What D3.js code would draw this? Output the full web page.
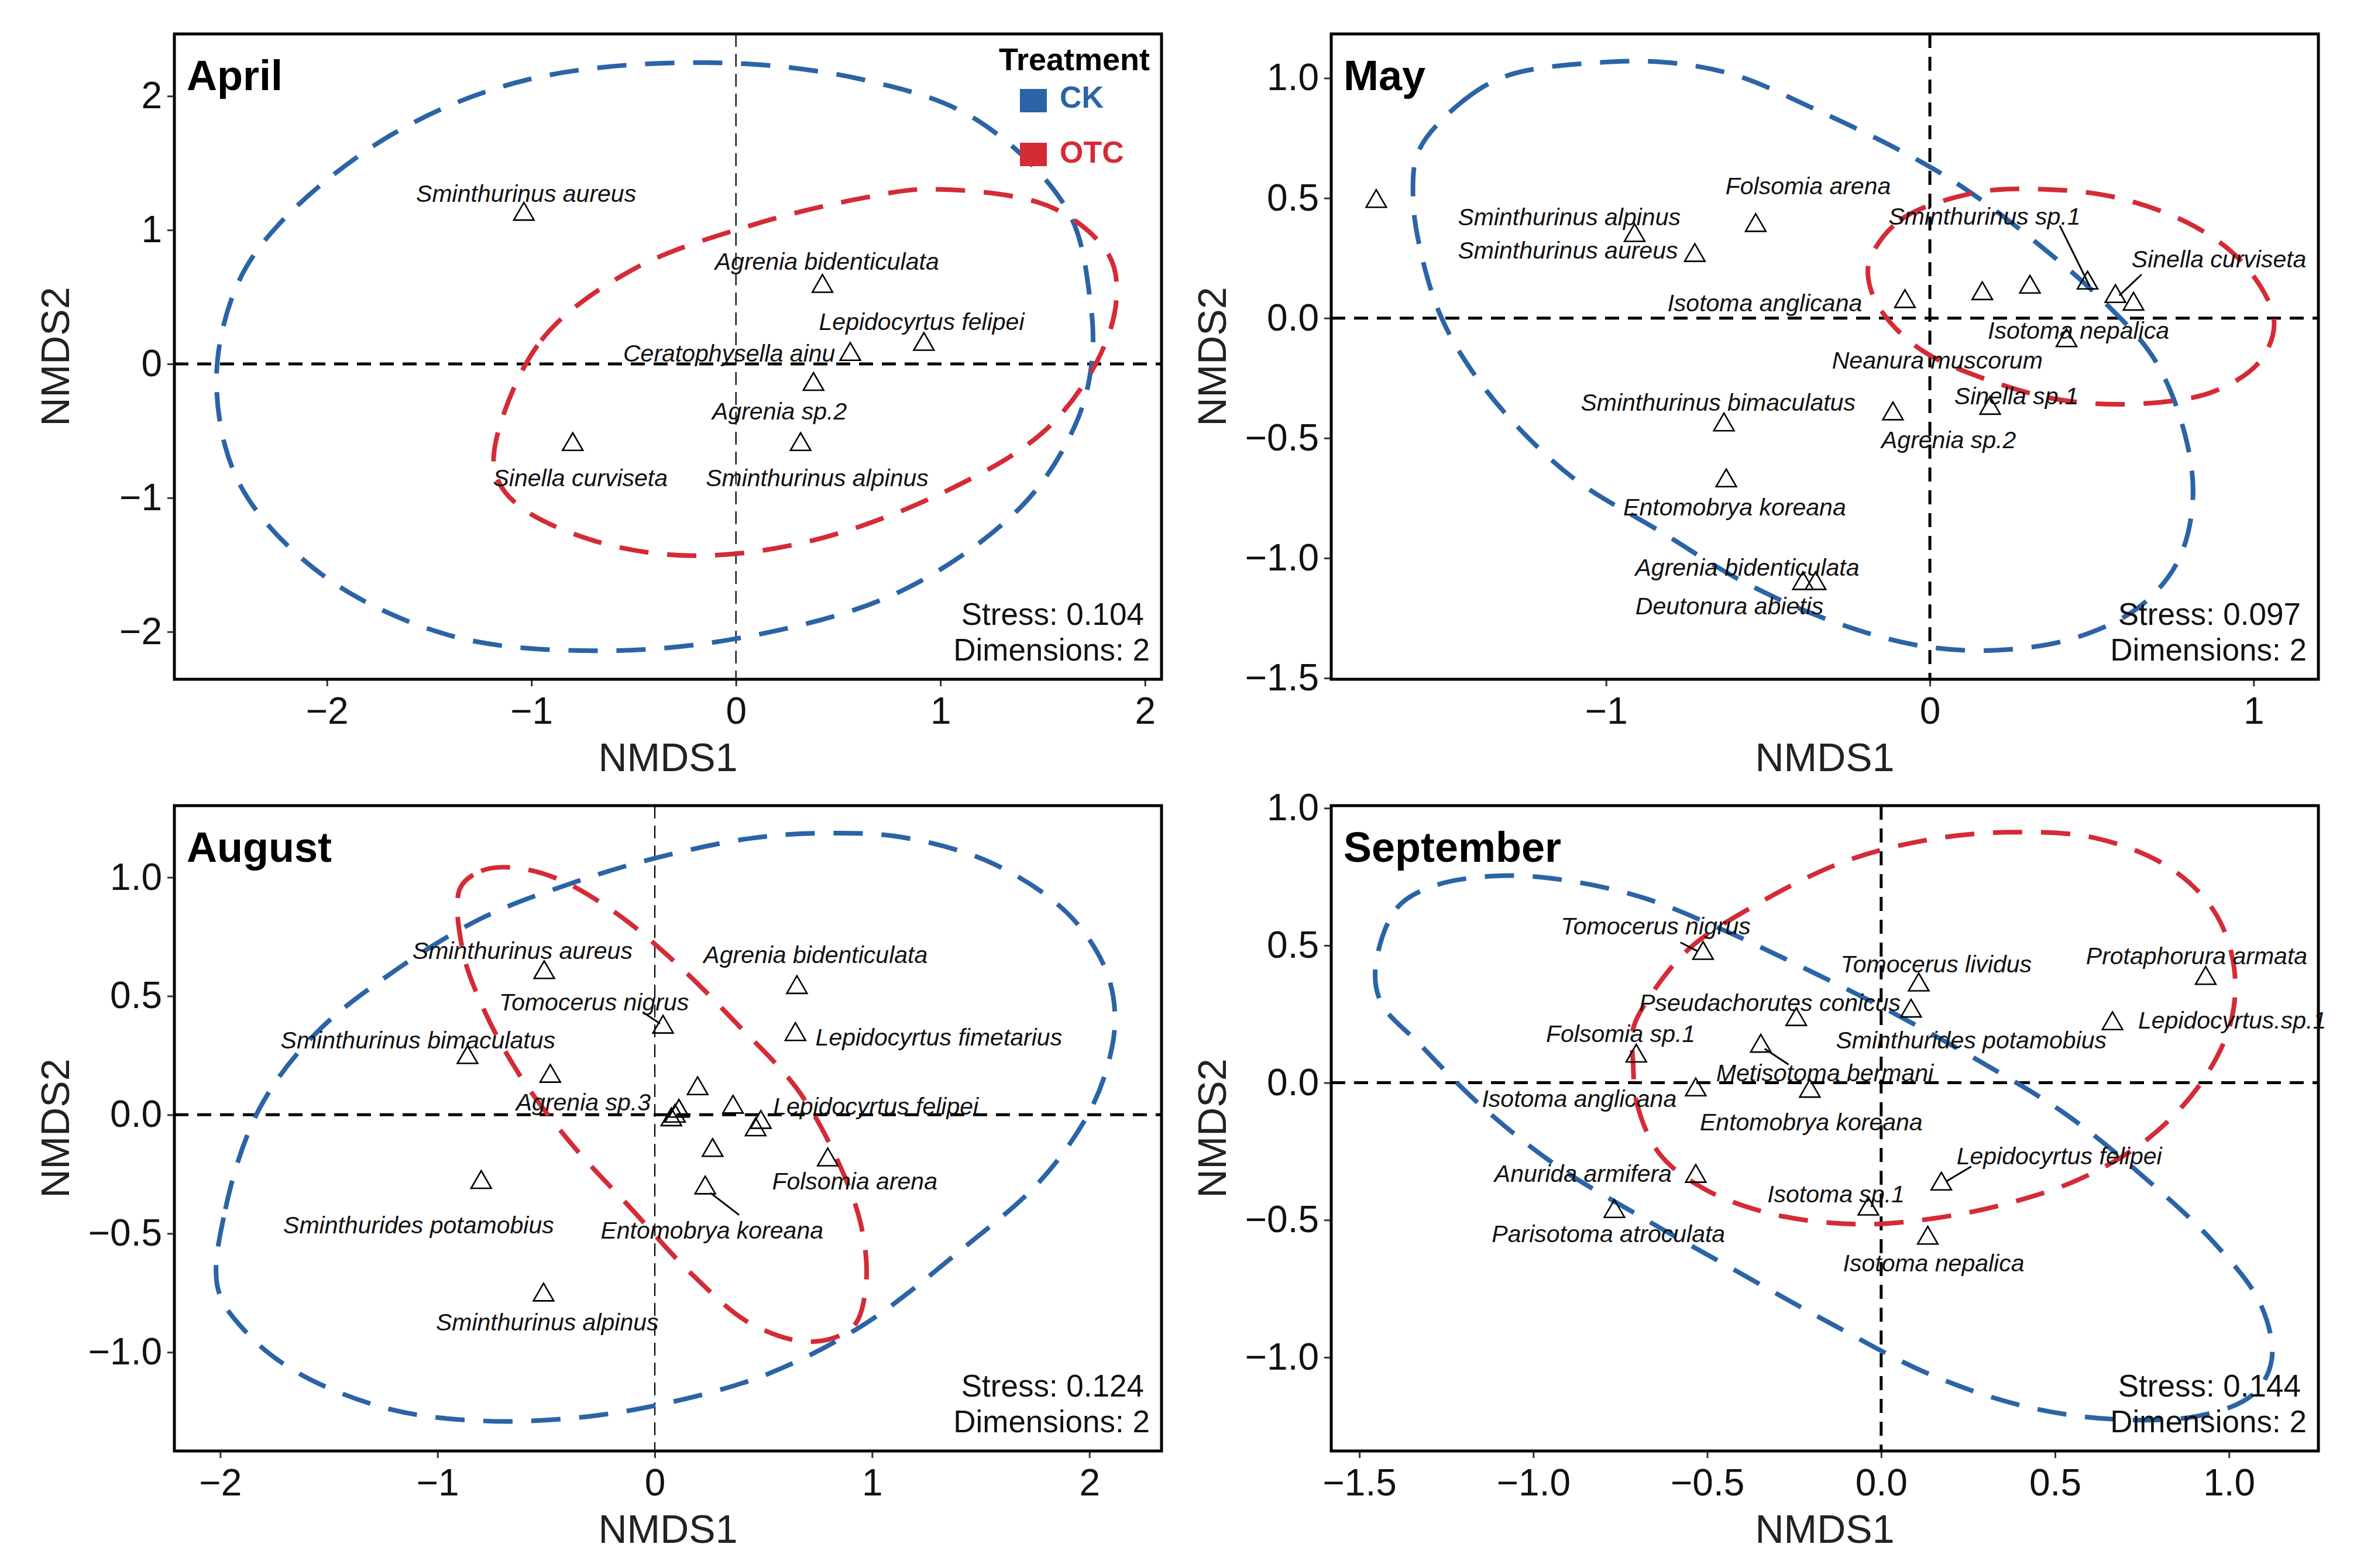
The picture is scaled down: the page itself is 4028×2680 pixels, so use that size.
<!DOCTYPE html>
<html>
<head>
<meta charset="utf-8">
<script src="https://cdn.jsdelivr.net/npm/d3@7"></script>
<style>
  body { margin: 0; background: #fff; }
  svg text { font-family: "Liberation Sans", Arial, sans-serif; }
</style>
</head>
<body>
<svg id="chart"></svg>
<script>
// ---- data (NMDS1, NMDS2, label NMDS1, label NMDS2) ----
const aprilPoints = [
    ['Sminthurinus aureus', -1.037, 1.118, -1.026, 1.271],
    ['Agrenia bidenticulata', 0.423, 0.579, 0.445, 0.763],
    ['Lepidocyrtus felipei', 0.919, 0.146, 0.908, 0.314],
    ['Ceratophysella ainu', 0.559, 0.071, -0.033, 0.079],
    ['Agrenia sp.2', 0.379, -0.153, 0.213, -0.355],
    ['Sinella curviseta', -0.798, -0.602, -0.761, -0.852],
    ['Sminthurinus alpinus', 0.316, -0.602, 0.397, -0.852]
];
const aprilSegments = [];
const aprilCK = [[-2.54,-0.15],[-2.423,-0.908],[-2.018,-1.58],[-1.393,-2.03],[-0.658,-2.142],[0.077,-2.03],[0.812,-1.693],[1.40,-1.058],[1.658,-0.46],[1.739,0],[1.732,0.475],[1.621,1.148],[1.18,1.82],[0.629,2.12],[-0.143,2.25],[-1.026,2.12],[-1.688,1.708],[-2.239,1.036],[-2.45,0.55]];
const aprilOTC = [[-1.173,-0.572],[-0.952,0.176],[-0.511,0.699],[0.077,1.036],[0.629,1.241],[0.96,1.305],[1.548,1.166],[1.824,0.811],[1.86,0.475],[1.768,0.026],[1.511,-0.497],[1.033,-0.946],[0.371,-1.32],[-0.217,-1.432],[-0.695,-1.32],[-1.063,-1.058],[-1.173,-0.834]];

const mayPoints = [
    [null, -1.71, 0.486],
    ['Folsomia arena', -0.538, 0.386, -0.376, 0.549],
    ['Sminthurinus alpinus', -0.912, 0.344, -1.114, 0.42],
    ['Sminthurinus aureus', -0.726, 0.261, -1.118, 0.282],
    ['Isotoma anglicana', -0.077, 0.069, -0.51, 0.063],
    ['Neanura muscorum', 0.162, 0.102, 0.023, -0.177],
    [null, 0.309, 0.129],
    ['Sminthurinus sp.1', 0.487, 0.146, 0.169, 0.424],
    ['Sinella curviseta', 0.573, 0.09, 0.893, 0.246],
    [null, 0.629, 0.058],
    ['Isotoma nepalica', 0.422, -0.094, 0.459, -0.052],
    ['Sinella sp.1', 0.186, -0.376, 0.267, -0.324],
    ['Agrenia sp.2', -0.114, -0.399, 0.058, -0.507],
    ['Sminthurinus bimaculatus', -0.636, -0.445, -0.654, -0.351],
    ['Entomobrya koreana', -0.629, -0.678, -0.603, -0.789],
    ['Agrenia bidenticulata', -0.392, -1.106, -0.564, -1.04],
    ['Deutonura abietis', -0.353, -1.106, -0.619, -1.2]
];
const maySegments = [[0.401, 0.386, 0.494, 0.132], [0.654, 0.182, 0.585, 0.094]];
const mayCK = [[-1.578,0.699],[-1.439,0.908],[-1.299,1.013],[-1.021,1.065],[-0.812,1.065],[-0.603,1.013],[-0.348,0.866],[-0.093,0.699],[0.093,0.553],[0.302,0.344],[0.534,0.073],[0.696,-0.177],[0.789,-0.491],[0.812,-0.762],[0.766,-1.013],[0.65,-1.2],[0.464,-1.326],[0.232,-1.382],[-0.023,-1.367],[-0.302,-1.263],[-0.58,-1.096],[-0.835,-0.887],[-1.09,-0.678],[-1.276,-0.449],[-1.415,-0.219],[-1.508,0.0],[-1.566,0.24],[-1.596,0.491]];
const mayOTC = [[-0.186,0.24],[-0.093,0.407],[0.139,0.522],[0.348,0.537],[0.58,0.501],[0.812,0.386],[0.974,0.219],[1.063,-0.01],[1.021,-0.177],[0.882,-0.303],[0.673,-0.355],[0.418,-0.344],[0.186,-0.261],[-0.023,-0.136],[-0.139,0.01],[-0.186,0.136]];

const augustPoints = [
    ['Sminthurinus aureus', -0.509, 0.599, -0.609, 0.692],
    ['Agrenia bidenticulata', 0.654, 0.536, 0.74, 0.673],
    ['Tomocerus nigrus', 0.038, 0.369, -0.28, 0.475],
    ['Lepidocyrtus fimetarius', 0.647, 0.338, 1.307, 0.327],
    ['Sminthurinus bimaculatus', -0.862, 0.241, -1.09, 0.314],
    ['Agrenia sp.3', -0.481, 0.162, -0.329, 0.053],
    [null, 0.197, 0.11],
    [null, 0.36, 0.032],
    [null, 0.093, -0.006],
    [null, 0.111, 0.015],
    [null, 0.076, -0.021],
    ['Lepidocyrtus felipei', 0.488, -0.032, 1.017, 0.036],
    [null, 0.464, -0.063],
    [null, 0.266, -0.15],
    ['Folsomia arena', 0.796, -0.19, 0.92, -0.281],
    ['Entomobrya koreana', 0.232, -0.308, 0.263, -0.487],
    ['Sminthurides potamobius', -0.799, -0.285, -1.087, -0.464],
    ['Sminthurinus alpinus', -0.512, -0.759, -0.495, -0.873]
];
const augustSegments = [[-0.055, 0.432, 0.024, 0.384], [0.388, -0.422, 0.256, -0.329]];
const augustCK = [[-2.01,-0.734],[-1.976,-0.397],[-1.82,0.025],[-1.561,0.342],[-1.215,0.595],[-0.799,0.827],[-0.384,0.975],[-0.003,1.08],[0.446,1.165],[0.792,1.186],[1.138,1.169],[1.554,1.059],[1.9,0.848],[2.073,0.616],[2.118,0.405],[2.073,0.173],[1.969,-0.038],[1.761,-0.291],[1.415,-0.565],[0.965,-0.882],[0.516,-1.093],[0.031,-1.219],[-0.384,-1.278],[-0.799,-1.289],[-1.215,-1.241],[-1.63,-1.093],[-1.872,-0.924]];
const augustOTC = [[-0.896,0.954],[-0.799,1.027],[-0.661,1.042],[-0.453,0.996],[-0.176,0.848],[0.1,0.637],[0.377,0.384],[0.654,0.11],[0.827,-0.165],[0.948,-0.46],[0.972,-0.713],[0.913,-0.892],[0.723,-0.956],[0.446,-0.882],[0.17,-0.671],[-0.107,-0.397],[-0.384,-0.122],[-0.626,0.173],[-0.799,0.468],[-0.886,0.7]];

const septemberPoints = [
    ['Tomocerus nigrus', -0.512, 0.471, -0.648, 0.571],
    ['Tomocerus lividus', 0.108, 0.356, 0.158, 0.431],
    ['Protaphorura armata', 0.933, 0.38, 0.907, 0.462],
    ['Pseudachorutes conicus', -0.244, 0.23, -0.32, 0.292],
    ['Sminthurides potamobius', 0.086, 0.261, 0.259, 0.155],
    ['Lepidocyrtus.sp.1', 0.665, 0.215, 1.009, 0.228],
    ['Folsomia sp.1', -0.704, 0.097, -0.749, 0.179],
    ['Metisotoma bermani', -0.346, 0.133, -0.162, 0.036],
    ['Isotoma anglicana', -0.533, -0.026, -0.868, -0.058],
    ['Entomobrya koreana', -0.205, -0.031, -0.201, -0.144],
    ['Anurida armifera', -0.533, -0.341, -0.857, -0.332],
    ['Parisotoma atroculata', -0.767, -0.469, -0.784, -0.551],
    ['Isotoma sp.1', -0.037, -0.46, -0.13, -0.405],
    ['Lepidocyrtus felipei', 0.173, -0.369, 0.512, -0.268],
    ['Isotoma nepalica', 0.134, -0.566, 0.151, -0.657]
];
const septemberSegments = [[-0.577, 0.511, -0.529, 0.48], [-0.335, 0.124, -0.266, 0.066], [0.259, -0.305, 0.188, -0.359]];
const septemberCK = [[-1.454,0.416],[-1.393,0.635],[-1.285,0.717],[-1.091,0.754],[-0.896,0.735],[-0.68,0.672],[-0.464,0.562],[-0.248,0.434],[0.011,0.27],[0.27,0.088],[0.529,-0.113],[0.745,-0.332],[0.961,-0.588],[1.091,-0.807],[1.123,-1.007],[1.069,-1.135],[0.918,-1.212],[0.68,-1.226],[0.421,-1.181],[0.14,-1.062],[-0.14,-0.88],[-0.4,-0.697],[-0.68,-0.496],[-0.94,-0.296],[-1.156,-0.077],[-1.328,0.142],[-1.436,0.288]];
const septemberOTC = [[-0.713,0.069],[-0.702,-0.077],[-0.637,-0.259],[-0.508,-0.387],[-0.313,-0.478],[-0.076,-0.515],[0.14,-0.496],[0.356,-0.442],[0.572,-0.35],[0.767,-0.204],[0.918,-0.004],[1.004,0.215],[1.015,0.416],[0.961,0.617],[0.832,0.781],[0.616,0.891],[0.356,0.912],[0.119,0.881],[-0.119,0.799],[-0.378,0.635],[-0.551,0.489],[-0.659,0.325],[-0.713,0.197]];

const treatments = ['CK', 'OTC'];
const stressValues = ['0.104', '0.097', '0.124', '0.144'];
const months = ['April', 'May', 'August', 'September'];

const aprilXTicks = [-2, -1, 0, 1, 2], aprilYTicks = [-2, -1, 0, 1, 2];
const mayXTicks = [-1, 0, 1], mayYTicks = [-1.5, -1, -0.5, 0, 0.5, 1];
const augustXTicks = [-2, -1, 0, 1, 2], augustYTicks = [-1, -0.5, 0, 0.5, 1];
const septemberXTicks = [-1.5, -1, -0.5, 0, 0.5, 1], septemberYTicks = [-1, -0.5, 0, 0.5, 1];

const aprilXDomain = [-2.746, 2.081], aprilYDomain = [-2.355, 2.464];
const mayXDomain = [-1.849, 1.2], mayYDomain = [-1.505, 1.184];
const augustXDomain = [-2.211, 2.332], augustYDomain = [-1.416, 1.302];
const septemberXDomain = [-1.581, 1.257], septemberYDomain = [-1.341, 1.009];

// ---- layout ----
const width = 4028, height = 2680;
const panelW = 1687, panelH = 1103;
const colX = [298, 2275], rowY = [58, 1377];
const colors = { CK: '#2b64a6', OTC: '#d42b36' };

const svg = d3.select('#chart').attr('width', width).attr('height', height);
svg.append('rect').attr('width', width).attr('height', height).attr('fill', '#fff');

const panels = [
    { points: aprilPoints, segs: aprilSegments, ck: aprilCK, otc: aprilOTC, xd: aprilXDomain, yd: aprilYDomain,
      xt: aprilXTicks, yt: aprilYTicks, xf: 'd', yf: 'd', thinV: true, legend: true },
    { points: mayPoints, segs: maySegments, ck: mayCK, otc: mayOTC, xd: mayXDomain, yd: mayYDomain,
      xt: mayXTicks, yt: mayYTicks, xf: 'd', yf: '.1f', thinV: false, legend: false },
    { points: augustPoints, segs: augustSegments, ck: augustCK, otc: augustOTC, xd: augustXDomain, yd: augustYDomain,
      xt: augustXTicks, yt: augustYTicks, xf: 'd', yf: '.1f', thinV: true, legend: false },
    { points: septemberPoints, segs: septemberSegments, ck: septemberCK, otc: septemberOTC, xd: septemberXDomain, yd: septemberYDomain,
      xt: septemberXTicks, yt: septemberYTicks, xf: '.1f', yf: '.1f', thinV: false, legend: false }
];

panels.forEach((p, i) => {
    const left = colX[i % 2], top = rowY[Math.floor(i / 2)];
    const g = svg.append('g').attr('transform', `translate(${left},${top})`);
    const x = d3.scaleLinear().domain(p.xd).range([0, panelW]);
    const y = d3.scaleLinear().domain(p.yd).range([panelH, 0]);

    const clipId = 'clip' + i;
    g.append('clipPath').attr('id', clipId)
        .append('rect').attr('width', panelW).attr('height', panelH);
    const inner = g.append('g').attr('clip-path', `url(#${clipId})`);

    // reference lines
    inner.append('line')
        .attr('x1', 0).attr('x2', panelW).attr('y1', y(0)).attr('y2', y(0))
        .attr('stroke', '#000').attr('stroke-width', 5).attr('stroke-dasharray', '24 15');
    inner.append('line')
        .attr('x1', x(0)).attr('x2', x(0)).attr('y1', 0).attr('y2', panelH)
        .attr('stroke', '#000')
        .attr('stroke-width', p.thinV ? 2.2 : 5)
        .attr('stroke-dasharray', p.thinV ? '22 12' : '24 15');

    // treatment ellipses
    const outline = d3.line()
        .x(d => x(d[0])).y(d => y(d[1]))
        .curve(d3.curveCatmullRomClosed.alpha(0.5));
    [['CK', p.ck], ['OTC', p.otc]].forEach(([key, pts]) => {
        inner.append('path')
            .attr('d', outline(pts))
            .attr('fill', 'none')
            .attr('stroke', colors[key])
            .attr('stroke-width', 8)
            .attr('stroke-dasharray', '50 32');
    });

    // species points
    const tri = d3.symbol(d3.symbolTriangle, 520);
    g.selectAll('.pt').data(p.points).enter().append('path')
        .attr('class', 'pt')
        .attr('d', tri)
        .attr('transform', d => `translate(${x(d[1])},${y(d[2])})`)
        .attr('fill', 'none').attr('stroke', '#000').attr('stroke-width', 2.6);

    // repel segments
    g.selectAll('.seg').data(p.segs).enter().append('line')
        .attr('class', 'seg')
        .attr('x1', d => x(d[0])).attr('y1', d => y(d[1]))
        .attr('x2', d => x(d[2])).attr('y2', d => y(d[3]))
        .attr('stroke', '#000').attr('stroke-width', 3);

    // species labels
    g.selectAll('.lab').data(p.points.filter(d => d[0])).enter().append('text')
        .attr('class', 'lab')
        .attr('x', d => x(d[3])).attr('y', d => y(d[4]))
        .attr('text-anchor', 'middle')
        .attr('dominant-baseline', 'central')
        .attr('font-style', 'italic')
        .attr('font-size', 41)
        .attr('fill', '#111')
        .text(d => d[0]);

    // axes
    const xAxis = g.append('g').attr('transform', `translate(0,${panelH})`)
        .call(d3.axisBottom(x).tickValues(p.xt).tickFormat(d3.format(p.xf)).tickSize(12).tickPadding(19));
    const yAxis = g.append('g')
        .call(d3.axisLeft(y).tickValues(p.yt).tickFormat(d3.format(p.yf)).tickSize(12).tickPadding(9));
    [xAxis, yAxis].forEach(a => {
        a.select('.domain').remove();
        a.selectAll('line').attr('stroke', '#333').attr('stroke-width', 3);
        a.selectAll('text').attr('font-size', 64).attr('fill', '#111')
            .attr('font-family', '"Liberation Sans", Arial, sans-serif');
    });

    // axis titles
    g.append('text')
        .attr('x', panelW / 2).attr('y', panelH + 157)
        .attr('text-anchor', 'middle').attr('font-size', 68).attr('fill', '#222')
        .text('NMDS1');
    g.append('text')
        .attr('transform', `translate(-180,${panelH / 2}) rotate(-90)`)
        .attr('text-anchor', 'middle').attr('font-size', 68).attr('fill', '#222')
        .text('NMDS2');

    // panel border
    g.append('rect')
        .attr('width', panelW).attr('height', panelH)
        .attr('fill', 'none').attr('stroke', '#000').attr('stroke-width', 5);

    // month title
    g.append('text')
        .attr('x', 21).attr('y', 96)
        .attr('font-size', 72).attr('font-weight', 'bold').attr('fill', '#000')
        .text(months[i]);

    // stress annotation
    g.append('text')
        .attr('x', panelW - 30).attr('y', panelH - 93)
        .attr('text-anchor', 'end').attr('font-size', 53).attr('fill', '#111')
        .text(`Stress: ${stressValues[i]}`);
    g.append('text')
        .attr('x', panelW - 20).attr('y', panelH - 32)
        .attr('text-anchor', 'end').attr('font-size', 53).attr('fill', '#111')
        .text('Dimensions: 2');

    // legend
    if (p.legend) {
        const lg = g.append('g');
        lg.append('text')
            .attr('x', panelW - 20).attr('y', 62)
            .attr('text-anchor', 'end').attr('font-size', 54).attr('font-weight', 'bold')
            .text('Treatment');
        treatments.forEach((t, k) => {
            lg.append('rect')
                .attr('x', panelW - 242).attr('y', 94 + k * 92)
                .attr('width', 46).attr('height', 40)
                .attr('fill', colors[t]);
            lg.append('text')
                .attr('x', panelW - 174).attr('y', 126 + k * 94)
                .attr('font-size', 52).attr('font-weight', 'bold')
                .attr('fill', colors[t])
                .text(t);
        });
    }
});
</script>
</body>
</html>
